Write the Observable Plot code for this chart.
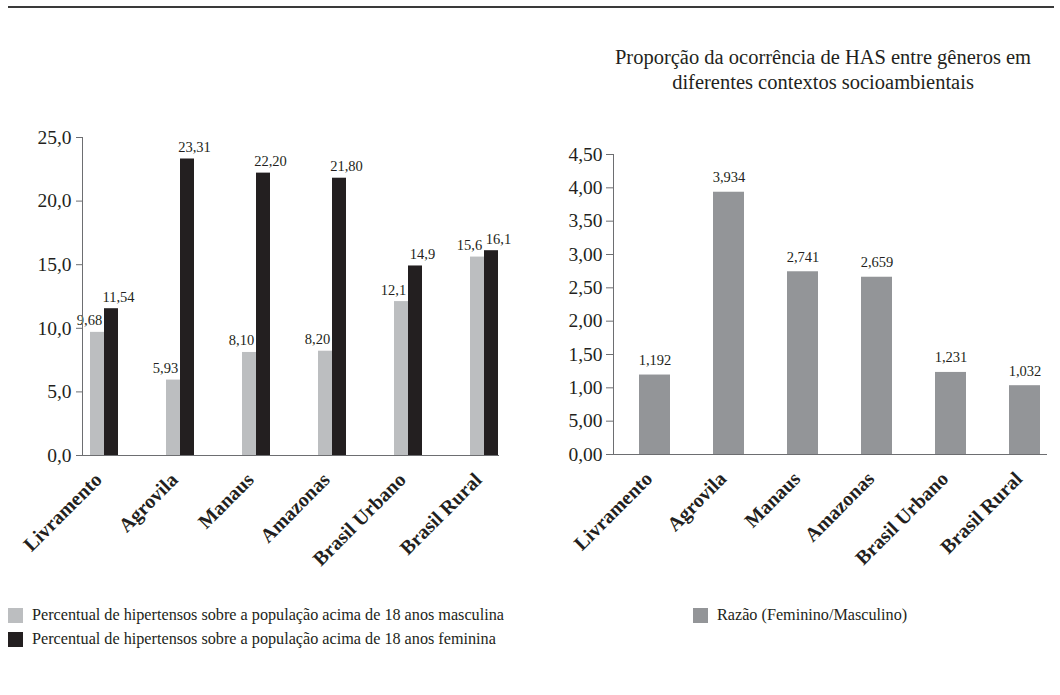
<!DOCTYPE html>
<html>
<head>
<meta charset="utf-8">
<script src="https://cdn.jsdelivr.net/npm/d3@7"></script>
<script src="https://cdn.jsdelivr.net/npm/@observablehq/plot@0.6"></script>
<style>
  html, body { margin: 0; padding: 0; background: #fff; }
  body { width: 1060px; height: 695px; position: relative; overflow: hidden; font-family: "Liberation Serif", serif; color: #231f20; }
  .topline { position: absolute; left: 8px; top: 6px; width: 1046px; border-top: 2px solid #3a3a3a; }
  .title { position: absolute; left: 580px; width: 486px; top: 45px; text-align: center; font-size: 20.5px; line-height: 25px; }
  #left { position: absolute; left: 0; top: 0; }
  #right { position: absolute; left: 530px; top: 0; }
  .legend { position: absolute; font-size: 16.2px; line-height: 24px; }
  .legend .row { display: flex; align-items: center; white-space: nowrap; }
  .legend .sw { width: 15px; height: 15px; margin-right: 9px; display: inline-block; }
</style>
</head>
<body>
<div class="topline"></div>
<div class="title">Proporção da ocorrência de HAS entre gêneros em<br>diferentes contextos socioambientais</div>
<div id="left"></div>
<div id="right"></div>
<div class="legend" id="legLeft" style="left:8px; top:603px;"></div>
<div class="legend" id="legRight" style="left:693px; top:603px;"></div>
<script>
const categories = ["Livramento", "Agrovila", "Manaus", "Amazonas", "Brasil Urbano", "Brasil Rural"];
const masculino = [9.68, 5.93, 8.10, 8.20, 12.1, 15.6];
const masculinoLabels = ["9,68", "5,93", "8,10", "8,20", "12,1", "15,6"];
const feminino = [11.54, 23.31, 22.20, 21.80, 14.9, 16.1];
const femininoLabels = ["11,54", "23,31", "22,20", "21,80", "14,9", "16,1"];
const razao = [1.192, 3.934, 2.741, 2.659, 1.231, 1.032];
const razaoLabels = ["1,192", "3,934", "2,741", "2,659", "1,231", "1,032"];
const leftTicks = [0, 5, 10, 15, 20, 25];
const leftTickLabels = ["0,0", "5,0", "10,0", "15,0", "20,0", "25,0"];
const rightTicks = [0, 0.5, 1, 1.5, 2, 2.5, 3, 3.5, 4, 4.5];
const rightTickLabels = ["0,00", "5,00", "1,00", "1,50", "2,00", "2,50", "3,00", "3,50", "4,00", "4,50"];
const legendLeft = [
  ["Percentual de hipertensos sobre a população acima de 18 anos masculina", "#bcbec0"],
  ["Percentual de hipertensos sobre a população acima de 18 anos feminina", "#231f20"]
];
const legendRight = [["Razão (Feminino/Masculino)", "#939598"]];

const dataM = categories.map((c, i) => ({cat: c, v: masculino[i], label: masculinoLabels[i]}));
const dataF = categories.map((c, i) => ({cat: c, v: feminino[i], label: femininoLabels[i]}));
const dataR = categories.map((c, i) => ({cat: c, v: razao[i], label: razaoLabels[i]}));

const axisColor = "#6d6e71";
const ink = "#231f20";

const left = Plot.plot({
  width: 530, height: 580,
  marginLeft: 82, marginRight: 31, marginTop: 137, marginBottom: 125,
  style: {fontFamily: "Liberation Serif, serif", color: ink, background: "transparent", overflow: "visible"},
  x: {domain: categories, range: [65, 523], paddingInner: 0.633, paddingOuter: 0.3165, label: null},
  y: {domain: [0, 25], label: null},
  marks: [
    Plot.axisY({ticks: leftTicks, tickFormat: (d) => leftTickLabels[leftTicks.indexOf(d)], tickSize: 6, tickPadding: 5, fontSize: 19.5, stroke: axisColor, strokeOpacity: 1, label: null}),
    Plot.axisX({tickSize: 0, tickPadding: 15, tickRotate: -45, fontSize: 20, fontWeight: "bold", label: null, dx: -6, dy: 6}),
    Plot.barY(dataM, {x: "cat", y: "v", fill: "#bcbec0", insetRight: 14}),
    Plot.text(dataM, {x: "cat", y: "v", text: "label", dx: -15, dy: -7, lineAnchor: "bottom", fontSize: 14.5, fill: ink}),
    Plot.barY(dataF, {x: "cat", y: "v", fill: ink, insetLeft: 14}),
    Plot.text(dataF, {x: "cat", y: "v", text: "label", dx: 14, dy: -7, lineAnchor: "bottom", fontSize: 14.5, fill: ink}),
    Plot.frame({anchor: "left", stroke: axisColor}),
    Plot.ruleY([0], {stroke: axisColor})
  ]
});
document.getElementById("left").append(left);

const right = Plot.plot({
  width: 530, height: 580,
  marginLeft: 83, marginRight: 13, marginTop: 154, marginBottom: 126,
  style: {fontFamily: "Liberation Serif, serif", color: ink, background: "transparent", overflow: "visible"},
  x: {domain: categories, range: [85, 534], paddingInner: 0.585, paddingOuter: 0.2925, label: null},
  y: {domain: [0, 4.5], label: null},
  marks: [
    Plot.axisY({ticks: rightTicks, tickFormat: (d) => rightTickLabels[rightTicks.indexOf(d)], tickSize: 7, tickPadding: 4, fontSize: 19.5, stroke: axisColor, strokeOpacity: 1, label: null}),
    Plot.axisX({tickSize: 0, tickPadding: 15, tickRotate: -45, fontSize: 20, fontWeight: "bold", label: null, dx: -6, dy: 6}),
    Plot.barY(dataR, {x: "cat", y: "v", fill: "#939598"}),
    Plot.text(dataR, {x: "cat", y: "v", text: "label", dy: -10, lineAnchor: "bottom", fontSize: 14.5, fill: ink}),
    Plot.frame({anchor: "left", stroke: axisColor}),
    Plot.ruleY([0], {stroke: axisColor})
  ]
});
document.getElementById("right").append(right);

function legend(id, items) {
  const el = document.getElementById(id);
  for (const [label, color] of items) {
    const row = document.createElement("div");
    row.className = "row";
    const sw = document.createElement("span");
    sw.className = "sw";
    sw.style.background = color;
    const t = document.createElement("span");
    t.textContent = label;
    row.append(sw, t);
    el.append(row);
  }
}
legend("legLeft", legendLeft);
legend("legRight", legendRight);
</script>
</body>
</html>
